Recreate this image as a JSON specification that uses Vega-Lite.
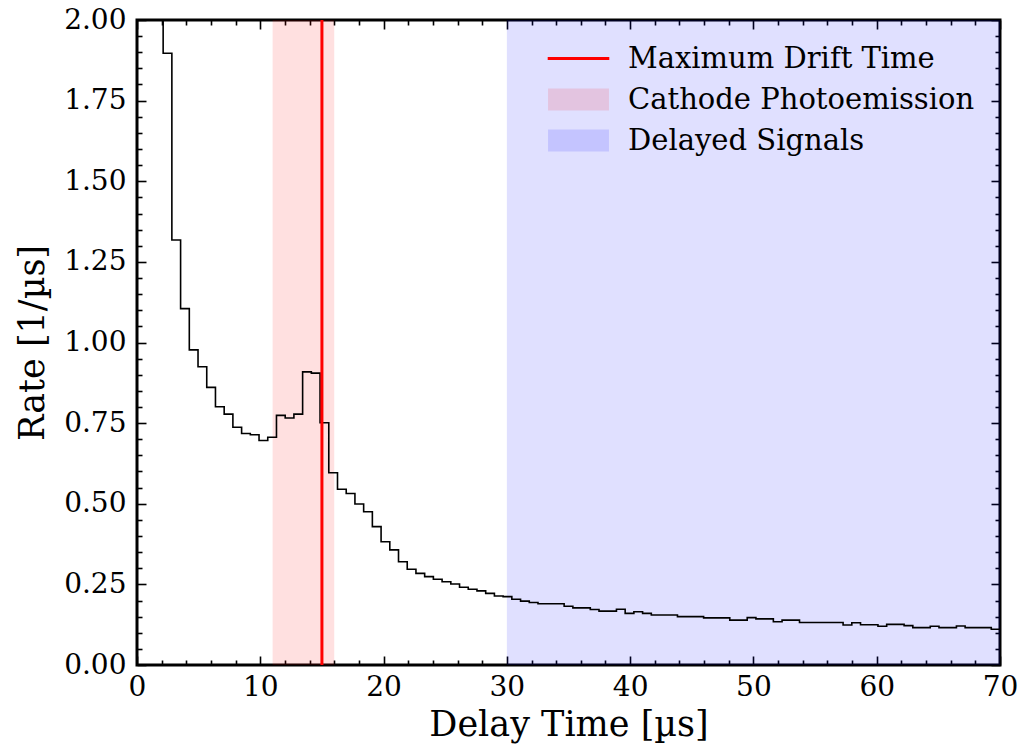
{
  "$schema": "https://vega.github.io/schema/vega-lite/v6.json",
  "width": 863,
  "height": 645,
  "autosize": "none",
  "padding": {"left": 137, "top": 20, "right": 23, "bottom": 83},
  "background": "white",
  "config": {
    "font": "DejaVu Serif",
    "view": {"stroke": "black", "strokeWidth": 3},
    "axis": {
      "domain": false,
      "grid": false,
      "zindex": 1,
      "labelFont": "DejaVu Serif",
      "titleFont": "DejaVu Serif",
      "labelFontSize": 28,
      "titleFontSize": 35,
      "titleFontWeight": "normal",
      "labelColor": "black",
      "titleColor": "black",
      "tickColor": "black",
      "tickWidth": 1.6,
      "labelOverlap": false,
      "labelFlush": false
    },
    "legend": {
      "labelFont": "DejaVu Serif",
      "labelFontSize": 29,
      "labelColor": "black",
      "labelLimit": 0,
      "padding": 0
    }
  },
  "datasets": {
    "hist": [
      {"t": 1.414, "rate": 2.6},
      {"t": 2.121, "rate": 1.897},
      {"t": 2.828, "rate": 1.318},
      {"t": 3.536, "rate": 1.105},
      {"t": 4.243, "rate": 0.977},
      {"t": 4.950, "rate": 0.925},
      {"t": 5.657, "rate": 0.861},
      {"t": 6.364, "rate": 0.801},
      {"t": 7.071, "rate": 0.778},
      {"t": 7.778, "rate": 0.737},
      {"t": 8.485, "rate": 0.718},
      {"t": 9.192, "rate": 0.714},
      {"t": 9.899, "rate": 0.696},
      {"t": 10.606, "rate": 0.706},
      {"t": 11.313, "rate": 0.774},
      {"t": 12.020, "rate": 0.766},
      {"t": 12.727, "rate": 0.778},
      {"t": 13.434, "rate": 0.909},
      {"t": 14.141, "rate": 0.905},
      {"t": 14.848, "rate": 0.751},
      {"t": 15.556, "rate": 0.596},
      {"t": 16.263, "rate": 0.545},
      {"t": 16.970, "rate": 0.532},
      {"t": 17.677, "rate": 0.499},
      {"t": 18.384, "rate": 0.475},
      {"t": 19.091, "rate": 0.429},
      {"t": 19.798, "rate": 0.382},
      {"t": 20.505, "rate": 0.357},
      {"t": 21.212, "rate": 0.320},
      {"t": 21.919, "rate": 0.297},
      {"t": 22.626, "rate": 0.284},
      {"t": 23.333, "rate": 0.274},
      {"t": 24.040, "rate": 0.266},
      {"t": 24.747, "rate": 0.258},
      {"t": 25.455, "rate": 0.251},
      {"t": 26.162, "rate": 0.241},
      {"t": 26.869, "rate": 0.235},
      {"t": 27.576, "rate": 0.230},
      {"t": 28.283, "rate": 0.222},
      {"t": 28.990, "rate": 0.214},
      {"t": 29.697, "rate": 0.212},
      {"t": 30.404, "rate": 0.204},
      {"t": 31.111, "rate": 0.198},
      {"t": 31.818, "rate": 0.194},
      {"t": 32.525, "rate": 0.190},
      {"t": 33.232, "rate": 0.190},
      {"t": 33.939, "rate": 0.190},
      {"t": 34.646, "rate": 0.182},
      {"t": 35.354, "rate": 0.177},
      {"t": 36.061, "rate": 0.177},
      {"t": 36.768, "rate": 0.172},
      {"t": 37.475, "rate": 0.167},
      {"t": 38.182, "rate": 0.167},
      {"t": 38.889, "rate": 0.173},
      {"t": 39.596, "rate": 0.160},
      {"t": 40.303, "rate": 0.165},
      {"t": 41.010, "rate": 0.160},
      {"t": 41.717, "rate": 0.155},
      {"t": 42.424, "rate": 0.155},
      {"t": 43.131, "rate": 0.155},
      {"t": 43.838, "rate": 0.150},
      {"t": 44.545, "rate": 0.150},
      {"t": 45.253, "rate": 0.150},
      {"t": 45.960, "rate": 0.146},
      {"t": 46.667, "rate": 0.146},
      {"t": 47.374, "rate": 0.146},
      {"t": 48.081, "rate": 0.139},
      {"t": 48.788, "rate": 0.139},
      {"t": 49.495, "rate": 0.147},
      {"t": 50.202, "rate": 0.143},
      {"t": 50.909, "rate": 0.143},
      {"t": 51.616, "rate": 0.134},
      {"t": 52.323, "rate": 0.139},
      {"t": 53.030, "rate": 0.139},
      {"t": 53.737, "rate": 0.132},
      {"t": 54.444, "rate": 0.132},
      {"t": 55.152, "rate": 0.132},
      {"t": 55.859, "rate": 0.132},
      {"t": 56.566, "rate": 0.132},
      {"t": 57.273, "rate": 0.124},
      {"t": 57.980, "rate": 0.131},
      {"t": 58.687, "rate": 0.125},
      {"t": 59.394, "rate": 0.125},
      {"t": 60.101, "rate": 0.120},
      {"t": 60.808, "rate": 0.126},
      {"t": 61.515, "rate": 0.126},
      {"t": 62.222, "rate": 0.122},
      {"t": 62.929, "rate": 0.116},
      {"t": 63.636, "rate": 0.116},
      {"t": 64.343, "rate": 0.120},
      {"t": 65.051, "rate": 0.116},
      {"t": 65.758, "rate": 0.116},
      {"t": 66.465, "rate": 0.121},
      {"t": 67.172, "rate": 0.116},
      {"t": 67.879, "rate": 0.116},
      {"t": 68.586, "rate": 0.116},
      {"t": 69.293, "rate": 0.111},
      {"t": 70.0, "rate": 0.111}
    ],
    "bands": [
      {"start": 11, "end": 16, "label": "Cathode Photoemission"},
      {"start": 30, "end": 70, "label": "Delayed Signals"}
    ],
    "drift": [
      {"t": 15, "label": "Maximum Drift Time"}
    ]
  },
  "layer": [
    {
      "data": {"name": "bands"},
      "mark": {"type": "rect", "opacity": 0.12},
      "encoding": {
        "x": {
          "field": "start", "type": "quantitative",
          "scale": {"domain": [0, 70], "nice": false, "zero": false},
          "axis": {
            "orient": "top", "title": null, "labels": false,
            "values": [0,10,20,30,40,50,60,70],
            "offset": -9, "tickSize": 9
          }
        },
        "x2": {"field": "end"},
        "y": {
          "datum": 0, "type": "quantitative",
          "scale": {"domain": [0, 2], "nice": false},
          "axis": {
            "orient": "right", "title": null, "labels": false,
            "values": [0,0.25,0.5,0.75,1,1.25,1.5,1.75,2],
            "offset": -9, "tickSize": 9
          }
        },
        "y2": {"datum": 2},
        "fill": {
          "field": "label", "type": "nominal",
          "scale": {
            "domain": ["Cathode Photoemission", "Delayed Signals"],
            "range": ["#ff0000", "#0000ff"]
          },
          "legend": {
            "orient": "none", "legendX": 427, "legendY": 65, "title": null,
            "symbolSize": 484, "labelOffset": 35, "rowPadding": 11,
            "symbolType": "M-2.77,-1H2.77V1H-2.77Z"
          }
        }
      }
    },
    {
      "data": {"name": "hist"},
      "mark": {"type": "line", "interpolate": "step-after", "color": "black", "strokeWidth": 1.6, "clip": true},
      "encoding": {
        "x": {
          "field": "t", "type": "quantitative",
          "axis": {
            "orient": "bottom", "title": "Delay Time [µs]",
            "values": [0,10,20,30,40,50,60,70],
            "offset": -9, "tickSize": 9,
            "labelPadding": 8,
            "titlePadding": 6
          }
        },
        "y": {
          "field": "rate", "type": "quantitative",
          "axis": {
            "orient": "left", "title": "Rate [1/µs]",
            "values": [0,0.25,0.5,0.75,1,1.25,1.5,1.75,2],
            "format": ".2f",
            "offset": -9, "tickSize": 9,
            "labelPadding": 11,
            "titlePadding": 13
          }
        }
      }
    },
    {
      "data": {"name": "hist"},
      "mark": {"type": "line", "interpolate": "step-after", "opacity": 0, "clip": true},
      "encoding": {
        "x": {
          "field": "t", "type": "quantitative",
          "axis": {
            "orient": "bottom", "title": null, "labels": false,
            "values": [2,4,6,8,12,14,16,18,22,24,26,28,32,34,36,38,42,44,46,48,52,54,56,58,62,64,66,68],
            "offset": -5, "tickSize": 5
          }
        },
        "y": {
          "field": "rate", "type": "quantitative",
          "axis": {
            "orient": "left", "title": null, "labels": false,
            "values": [0.05,0.1,0.15,0.2,0.3,0.35,0.4,0.45,0.55,0.6,0.65,0.7,0.8,0.85,0.9,0.95,1.05,1.1,1.15,1.2,1.3,1.35,1.4,1.45,1.55,1.6,1.65,1.7,1.8,1.85,1.9,1.95],
            "offset": -5, "tickSize": 5
          }
        }
      }
    },
    {
      "data": {"name": "drift"},
      "mark": {"type": "rule", "strokeWidth": 3},
      "encoding": {
        "x": {
          "field": "t", "type": "quantitative",
          "axis": {
            "orient": "top", "title": null, "labels": false,
            "values": [2,4,6,8,12,14,16,18,22,24,26,28,32,34,36,38,42,44,46,48,52,54,56,58,62,64,66,68],
            "offset": -5, "tickSize": 5
          }
        },
        "y": {
          "datum": 0, "type": "quantitative",
          "axis": {
            "orient": "right", "title": null, "labels": false,
            "values": [0.05,0.1,0.15,0.2,0.3,0.35,0.4,0.45,0.55,0.6,0.65,0.7,0.8,0.85,0.9,0.95,1.05,1.1,1.15,1.2,1.3,1.35,1.4,1.45,1.55,1.6,1.65,1.7,1.8,1.85,1.9,1.95],
            "offset": -5, "tickSize": 5
          }
        },
        "y2": {"datum": 2},
        "stroke": {
          "field": "label", "type": "nominal",
          "scale": {"domain": ["Maximum Drift Time"], "range": ["#ff0000"]},
          "legend": {
            "orient": "none", "legendX": 427, "legendY": 24, "title": null,
            "symbolSize": 484, "labelOffset": 35, "symbolStrokeWidth": 3,
            "symbolType": "M-2.8,0H2.8"
          }
        }
      }
    }
  ],
  "resolve": {"axis": {"x": "independent", "y": "independent"}}
}
